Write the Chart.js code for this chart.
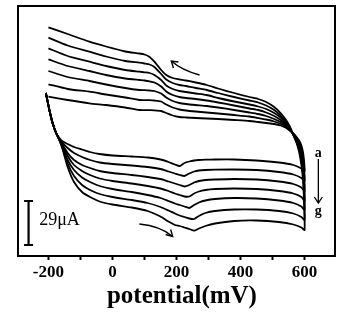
<!DOCTYPE html>
<html lang="en">
<head>
<meta charset="UTF-8">
<title>Cyclic voltammograms a-g</title>
<script src="https://cdn.jsdelivr.net/npm/chart.js@4"></script>
<style>
  html, body { margin: 0; padding: 0; background: #fff; }
  #wrap { width: 355px; height: 318px; }
</style>
</head>
<body>
<div id="wrap"><canvas id="cv" width="355" height="318"></canvas></div>
<script>
// potential (mV) of the forward scan, -200 -> 600
const forwardPotential = [-208, -197, -187, -176, -166, -155, -140, -120, -95, -70, -40, 0, 60, 110, 150,
  175, 195, 210, 225, 240, 255, 270, 290, 320, 380, 450, 520, 565, 590, 600];
// potential (mV) of the reverse scan, 600 -> -200
const reversePotential = [598, 595, 590, 583, 575, 565, 553, 540, 525, 505, 480, 455, 428, 380, 330, 294,
  260, 230, 209, 188, 168, 152, 131, 116, 100, 84, 40, -20, -72, -140, -200];

// current in plot units (scale bar: 44 units = 29 uA)
const forwardA = [163, 146, 133, 123, 118, 114.5, 112, 109, 106.5, 104, 102, 100.5, 99.5, 98.5, 96.5, 94, 91.5, 90, 93, 94.5, 95.5, 96, 96.3, 96.5, 96.5, 95.5, 93.5, 91, 87.5, 85];
const forwardB = [163, 146, 133, 123, 117.5, 113, 108, 103, 99, 96, 93.5, 92, 90.5, 89, 87, 84.5, 82.5, 81, 80, 82.5, 84.5, 85.5, 86, 86.3, 86.5, 86, 84, 81.5, 78, 75];
const forwardC = [163, 146, 133, 123, 117, 111, 103, 96, 91, 88, 85, 83, 81, 79, 77, 74.5, 72.5, 71, 69.5, 71, 73.5, 75, 76, 76.5, 77, 76.5, 74.5, 72, 68.5, 65];
const forwardD = [163, 146, 133, 123, 117, 110, 100, 91, 85, 81, 77.5, 75, 72.5, 70, 67.5, 65, 62.5, 61, 59.5, 59.5, 62.5, 64.5, 66, 67, 67.5, 67, 65, 62.5, 59, 55];
const forwardE = [163, 146, 133, 123, 116.5, 108.5, 96, 86, 78.5, 74, 70, 67, 64, 61, 58, 55, 52.5, 51, 49.5, 48, 51, 53.5, 55.5, 57, 58, 57.5, 55.5, 53, 49.5, 46];
const forwardF = [163, 146, 133, 123, 116, 107, 92.5, 80, 71, 66, 62, 59, 56, 53, 49, 45.5, 42.5, 40.5, 39, 37.5, 37, 40, 43, 45, 46.5, 46.5, 45, 42.5, 39, 36];
const forwardG = [163, 146, 133, 123, 116, 106, 89, 74, 64, 59, 54.5, 51.5, 48.5, 45, 39.5, 34.5, 31, 30, 28.5, 27, 25.3, 27.5, 30, 32.5, 35, 35.5, 34, 31.5, 28.5, 26];

const reverseA = [96, 104, 110.5, 115.5, 119, 122.5, 125.5, 128.5, 130.5, 132, 133, 134, 135, 136, 137, 137.5, 138, 138.5, 139, 140.5, 143, 145, 145.7, 145.8, 145.9, 146, 148.5, 151, 152.7, 156, 159.3];
const reverseB = [91, 100, 108, 114, 118, 122, 126, 129.5, 132, 134.5, 136.5, 138, 139.5, 141, 142.5, 143.5, 144.5, 145.5, 146.5, 148.5, 151.5, 154.5, 155.5, 155.8, 155.9, 156, 158.5, 161.5, 164.3, 167, 171.7];
const reverseC = [85, 96, 105, 112, 117, 122, 126.5, 130.5, 134, 137, 140, 142, 143.5, 146, 148.5, 150, 151, 152, 153, 155, 158.5, 162.5, 165, 165.5, 165.8, 166, 168, 171.5, 175, 179, 185];
const reverseD = [79, 92, 102, 110, 116, 121.5, 127, 132, 136, 140, 143.5, 146, 147.5, 150.5, 153.5, 155.5, 157, 158, 159, 161, 164.5, 169.5, 173.5, 174.7, 175.5, 176, 177.5, 181, 185, 190, 196.7];
const reverseE = [72, 88, 99, 108, 115, 121, 128, 133.5, 138.5, 143, 147, 149.5, 151.5, 154.5, 158, 161, 162.5, 164, 165, 167, 170.5, 176, 181, 183, 183.7, 184.3, 186, 190, 194.3, 200, 207.7];
const reverseF = [64, 82, 95, 106, 114, 121, 129, 135, 140.5, 146, 150.5, 153.5, 155.5, 159, 163, 166, 168, 170, 171, 173, 176.5, 182, 189, 191.5, 192.5, 193.3, 195, 199.5, 204.3, 210.5, 218.3];
const reverseG = [56, 76, 91, 104, 113, 121, 130, 137, 143, 149, 154, 157, 159, 163, 167.5, 171, 173.5, 175.5, 176.7, 178, 181, 186, 194.3, 199, 201.5, 202.5, 204.5, 209.5, 214.3, 222, 228.7];

const curveLabels = ['a', 'b', 'c', 'd', 'e', 'f', 'g'];
const forwardCurrents = [forwardA, forwardB, forwardC, forwardD, forwardE, forwardF, forwardG];
const reverseCurrents = [reverseA, reverseB, reverseC, reverseD, reverseE, reverseF, reverseG];

const xTicks = [-200, -100, 0, 100, 200, 300, 400, 500, 600];
const xTitle = 'potential(mV)';
const scaleBarLabel = '29\u03bcA';

function loop(i) {
  const pts = forwardPotential.map((x, k) => ({ x: x, y: forwardCurrents[i][k] }));
  return pts.concat(reversePotential.map((x, k) => ({ x: x, y: reverseCurrents[i][k] })));
}

const serif = 'Liberation Serif, Times New Roman, serif';

// frame, axis title, scale bar, arrows and the a->g marker
const extras = {
  id: 'extras',
  afterDraw(chart) {
    const ctx = chart.ctx, a = chart.chartArea;
    const X = v => chart.scales.x.getPixelForValue(v);
    const Y = v => chart.scales.y.getPixelForValue(v);
    ctx.save();
    ctx.strokeStyle = '#000';
    ctx.fillStyle = '#000';
    ctx.lineWidth = 2;
    ctx.strokeRect(a.left, a.top, a.right - a.left, a.bottom - a.top);

    // x title (sits a little right of the axis centre in the original)
    ctx.font = 'bold 25px ' + serif;
    ctx.textAlign = 'center';
    ctx.textBaseline = 'middle';
    ctx.fillText(xTitle, X(217), a.bottom + 41);

    // scale bar
    ctx.lineWidth = 2.2;
    ctx.beginPath();
    ctx.moveTo(X(-262), Y(11)); ctx.lineTo(X(-262), Y(55));
    ctx.moveTo(X(-276), Y(55)); ctx.lineTo(X(-248), Y(55));
    ctx.moveTo(X(-276), Y(11)); ctx.lineTo(X(-248), Y(11));
    ctx.stroke();
    ctx.font = '18px ' + serif;
    ctx.textAlign = 'left';
    ctx.fillText(scaleBarLabel, X(-229), Y(36));

    // reverse-scan arrow (top)
    ctx.lineWidth = 1.4;
    ctx.beginPath();
    ctx.moveTo(X(272), Y(181));
    ctx.quadraticCurveTo(X(215), Y(186), X(184), Y(195));
    ctx.stroke();
    let tx = X(184), ty = Y(195);
    ctx.beginPath();
    ctx.moveTo(tx + 7, ty + 1); ctx.lineTo(tx, ty); ctx.lineTo(tx + 2, ty + 7);
    ctx.stroke();

    // forward-scan arrow (bottom)
    ctx.beginPath();
    ctx.moveTo(X(84), Y(32));
    ctx.quadraticCurveTo(X(150), Y(30), X(188), Y(19.5));
    ctx.stroke();
    tx = X(188); ty = Y(19.5);
    ctx.beginPath();
    ctx.moveTo(tx - 7, ty - 2); ctx.lineTo(tx, ty); ctx.lineTo(tx - 2, ty - 7);
    ctx.stroke();

    // a -> g marker
    ctx.font = 'bold 14px ' + serif;
    ctx.textAlign = 'center';
    ctx.fillText(curveLabels[0], X(643), Y(103));
    ctx.fillText(curveLabels[6], X(643), Y(45));
    ctx.lineWidth = 1.3;
    tx = X(643);
    ctx.beginPath();
    ctx.moveTo(tx, Y(97)); ctx.lineTo(tx, Y(53));
    ctx.moveTo(tx - 4, Y(59)); ctx.lineTo(tx, Y(53)); ctx.lineTo(tx + 4, Y(59));
    ctx.stroke();
    ctx.restore();
  }
};

new Chart(document.getElementById('cv'), {
  type: 'scatter',
  data: {
    datasets: curveLabels.map((lab, i) => ({
      label: lab,
      data: loop(i),
      showLine: true,
      borderColor: '#000',
      borderWidth: 1.8,
      pointRadius: 0,
      tension: 0.2,
      fill: false
    }))
  },
  options: {
    responsive: false,
    animation: false,
    events: [],
    layout: { padding: { left: 18, right: 20, top: 6, bottom: 33.6 } },
    plugins: { legend: { display: false }, tooltip: { enabled: false } },
    scales: {
      x: {
        type: 'linear',
        min: -295,
        max: 695,
        afterBuildTicks: axis => { axis.ticks = xTicks.map(v => ({ value: v })); },
        ticks: {
          autoSkip: false,
          maxRotation: 0,
          padding: 2,
          color: '#000',
          font: { family: serif, size: 17, weight: 'bold' },
          callback: v => (v % 200 === 0 ? String(v) : '')
        },
        grid: { display: true, drawOnChartArea: false, tickLength: 4, tickWidth: 2, tickColor: '#000', color: '#000' },
        border: { display: false },
        title: { display: false }
      },
      y: { display: false, min: 0, max: 250 }
    }
  },
  plugins: [extras]
});
</script>
</body>
</html>
